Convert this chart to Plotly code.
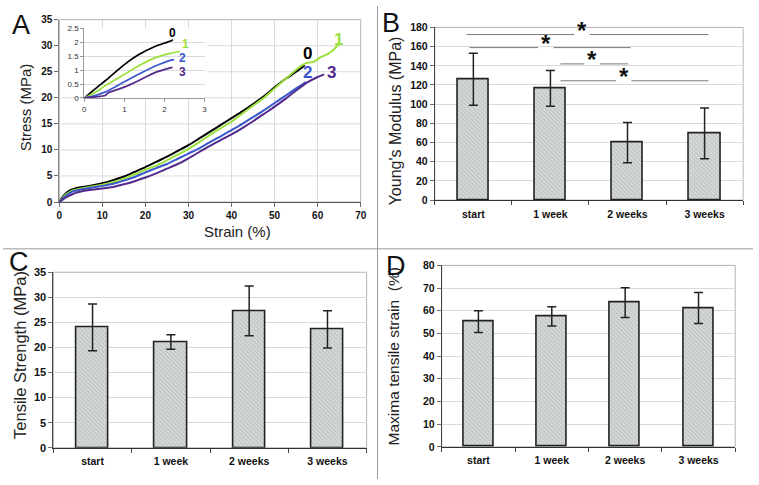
import plotly.graph_objects as go

W, H = 759, 485

# ---------------- data ----------------
# Panel A: stress-strain curves (strain %, stress MPa)
c0_x = [0, 0.5, 1, 2, 3, 4, 5, 7, 10, 12.5, 15, 17.5, 20, 22.5, 25, 27.5, 30, 32.5, 35, 37.5, 40, 42.5, 45, 47.5, 50, 52.5, 55, 57]
c0_y = [0, 0.7, 1.2, 2.0, 2.4, 2.7, 2.85, 3.1, 3.6, 4.2, 4.9, 5.8, 6.7, 7.7, 8.7, 9.8, 10.9, 12.2, 13.5, 14.8, 16.1, 17.4, 18.8, 20.3, 22.0, 23.6, 25.0, 26.2]
c1_x = [0, 0.5, 1, 2, 3, 4, 5, 7, 10, 12.5, 15, 17.5, 20, 22.5, 25, 27.5, 30, 32.5, 35, 37.5, 40, 42.5, 45, 47.5, 50, 52.5, 55, 56.5, 57.5, 58.5, 59.5, 60.5, 61.5, 62.5, 63.5, 64.5, 65]
c1_y = [0, 0.5, 1.0, 1.7, 2.2, 2.4, 2.6, 2.9, 3.3, 3.8, 4.5, 5.3, 6.2, 7.0, 8.0, 9.1, 10.2, 11.5, 12.9, 14.2, 15.4, 17.0, 18.5, 20.0, 21.8, 23.6, 25.4, 26.3, 26.7, 26.8, 27.1, 27.7, 28.1, 28.5, 29.1, 29.9, 30.3]
c2_x = [0, 0.5, 1, 2, 3, 4, 5, 7, 10, 12.5, 15, 17.5, 20, 22.5, 25, 27.5, 30, 32.5, 35, 37.5, 40, 42.5, 45, 47.5, 50, 52.5, 55, 56.5, 57.3]
c2_y = [0, 0.4, 0.8, 1.5, 2.0, 2.2, 2.4, 2.7, 3.1, 3.5, 4.1, 4.8, 5.7, 6.5, 7.3, 8.3, 9.3, 10.3, 11.5, 12.6, 13.8, 15.0, 16.3, 17.6, 19.0, 20.4, 21.8, 22.6, 23.0]
c3_x = [0, 0.5, 1, 2, 3, 4, 5, 6, 7, 10, 12.5, 15, 17.5, 20, 22.5, 25, 27.5, 30, 32.5, 35, 37.5, 40, 42.5, 45, 47.5, 50, 52.5, 55, 57.5, 60, 61.5]
c3_y = [0, 0.3, 0.6, 1.1, 1.5, 1.8, 2.0, 2.2, 2.3, 2.6, 2.9, 3.4, 4.0, 4.7, 5.5, 6.4, 7.3, 8.4, 9.6, 10.8, 11.9, 13.0, 14.2, 15.5, 16.9, 18.3, 19.8, 21.4, 22.9, 24.0, 24.5]

# Panel A inset: initial region
i0_x = [0, 0.27, 0.52, 1.0, 1.35, 1.76, 2.17, 2.21]
i0_y = [0, 0.33, 0.62, 1.2, 1.55, 1.85, 2.06, 2.1]
i1_x = [0, 0.27, 0.52, 1.0, 1.35, 1.76, 2.17, 2.38]
i1_y = [0, 0.2, 0.44, 0.85, 1.15, 1.44, 1.61, 1.67]
i2_x = [0, 0.27, 0.52, 1.0, 1.35, 1.76, 2.17, 2.24]
i2_y = [0, 0.09, 0.21, 0.58, 0.85, 1.14, 1.36, 1.38]
i3_x = [0, 0.27, 0.52, 0.6, 1.0, 1.35, 1.76, 2.17, 2.2]
i3_y = [0, 0.04, 0.09, 0.19, 0.39, 0.62, 0.91, 1.09, 1.1]

curve_names = ["0", "1", "2", "3"]
curve_colors = ["#000000", "#99e03a", "#3a58cc", "#512a8c"]

# Bar panels
categories = ["start", "1 week", "2 weeks", "3 weeks"]
youngs_mean = [126, 116.5, 60, 69.5]
youngs_err = [27, 18.7, 21, 26.5]
tensile_mean = [24.0, 21.1, 27.3, 23.6]
tensile_err = [4.65, 1.45, 4.95, 3.7]
maxstrain_mean = [55.2, 57.5, 63.6, 61.2]
maxstrain_err = [4.8, 4.25, 6.6, 6.85]

# significance comparisons in panel B (from, to, level, star position)
sig_from = [-0.09, -0.05, 1.13, 1.13]
sig_to = [3.05, 2.04, 2.01, 3.05]
sig_level = [172.6, 159, 142, 124.4]
sig_star = [1.41, 0.94, 1.54, 1.95]

# main-panel A gridline values
a_grid = [5, 10, 15, 20, 25, 30]

# ---------------- helpers ----------------
def fx(p):
    return p / W

def fy(p):
    return 1 - p / H

NARROW = "Liberation Sans Narrow, Arial Narrow, Liberation Sans, Arial, sans-serif"
SANS = "Liberation Sans, Arial, sans-serif"
AXIS_COL = "#6e6e6e"
GRID_COL = "#dadada"
BORDER_COL = "#b4b4b4"

fig = go.Figure()

# Panel A main curves
for xs, ys, col in [(c0_x, c0_y, curve_colors[0]), (c1_x, c1_y, curve_colors[1]),
                    (c2_x, c2_y, curve_colors[2]), (c3_x, c3_y, curve_colors[3])]:
    fig.add_trace(go.Scatter(x=xs, y=ys, mode="lines", line=dict(color=col, width=2, shape="spline", smoothing=0.5),
                             xaxis="x", yaxis="y", showlegend=False, hoverinfo="skip"))
# inset curves
for xs, ys, col in [(i0_x, i0_y, curve_colors[0]), (i1_x, i1_y, curve_colors[1]),
                    (i2_x, i2_y, curve_colors[2]), (i3_x, i3_y, curve_colors[3])]:
    fig.add_trace(go.Scatter(x=xs, y=ys, mode="lines", line=dict(color=col, width=1.7, shape="spline", smoothing=0.6),
                             xaxis="x2", yaxis="y2", showlegend=False, hoverinfo="skip"))

def bar_trace(vals, errs, xa, ya):
    return go.Bar(
        x=list(range(len(categories))), y=vals, width=0.41,
        marker=dict(color="#d6dbda", line=dict(color="#222222", width=1.6),
                    pattern=dict(shape="\\", fgcolor="#9aa3a2", bgcolor="#d6dbda", size=3, solidity=0.35)),
        error_y=dict(type="data", array=errs, color="#222222", thickness=1.5, width=4.5),
        xaxis=xa, yaxis=ya, showlegend=False, hoverinfo="skip")

fig.add_trace(bar_trace(youngs_mean, youngs_err, "x3", "y3"))
fig.add_trace(bar_trace(tensile_mean, tensile_err, "x4", "y4"))
fig.add_trace(bar_trace(maxstrain_mean, maxstrain_err, "x5", "y5"))

def num_axis(domain, rng, dtick, anchor, size=10, **kw):
    d = dict(domain=domain, range=rng, dtick=dtick, anchor=anchor, showline=True, linecolor=AXIS_COL,
             linewidth=1, ticks="outside", ticklen=4, tickcolor=AXIS_COL, showgrid=True, gridcolor=GRID_COL,
             zeroline=False, tickfont=dict(family=NARROW, size=size, color="#111", weight="bold"), fixedrange=True)
    d.update(kw)
    return d

def cat_axis(domain, anchor):
    return dict(domain=domain, range=[-0.5, 3.5], anchor=anchor, showline=True, linecolor="#333",
                linewidth=1, tickmode="array", tickvals=list(range(len(categories))), ticktext=categories,
                ticks="outside", ticklen=4, tickcolor="rgba(0,0,0,0)", showgrid=False, zeroline=False,
                tickfont=dict(family=NARROW, size=10.5, color="#111", weight="bold"),
                minor=dict(tickmode="linear", tick0=-0.5, dtick=1, ticks="outside", ticklen=4, tickcolor="#444"),
                fixedrange=True)

fig.update_layout(
    width=W, height=H, margin=dict(l=0, r=0, t=0, b=0),
    paper_bgcolor="white", plot_bgcolor="white", bargap=0,
    xaxis=num_axis([fx(57), fx(362)], [0, 70], 10, "y", linecolor="#555"),
    yaxis=num_axis([fy(201), fy(14)], [0, 35], 5, "x", linecolor="#888", showgrid=False),
    xaxis2=dict(domain=[fx(82.3), fx(204)], range=[0, 3], dtick=1, anchor="y2", showline=True, linecolor="#999",
                ticks="outside", ticklen=3, tickcolor="#999", showgrid=False, zeroline=False,
                tickfont=dict(family=SANS, size=8, color="#333"), fixedrange=True),
    yaxis2=dict(domain=[fy(94.3), fy(23)], range=[0, 2.5], dtick=0.5, anchor="x2", showline=True, linecolor="#999",
                ticks="outside", ticklen=3, tickcolor="#999", showgrid=True, gridcolor=GRID_COL, zeroline=False,
                tickfont=dict(family=SANS, size=8, color="#333"), fixedrange=True),
    xaxis3=cat_axis([fx(437), fx(749)], "y3"),
    yaxis3=num_axis([fy(199), fy(22)], [0, 180], 20, "x3", size=10.5, linecolor="#444"),
    xaxis4=cat_axis([fx(51), fx(368)], "y4"),
    yaxis4=num_axis([fy(453), fy(273)], [0, 35], 5, "x4", size=11, linecolor="#444"),
    xaxis5=cat_axis([fx(444), fx(741)], "y5"),
    yaxis5=num_axis([fy(452), fy(266)], [0, 80], 10, "x5", size=10.5, linecolor="#444"),
)

shapes = []
# plot-area borders
for xa, ya in [("x", "y"), ("x3", "y3"), ("x4", "y4"), ("x5", "y5")]:
    shapes.append(dict(type="rect", xref=xa + " domain", yref=ya + " domain", x0=0, x1=1, y0=0, y1=1,
                       line=dict(color=BORDER_COL, width=1), layer="below"))
# gridlines of the main panel A, interrupted by the inset's white chart area
inset_right = (207 - 57) / 305
inset_top_val, inset_bot_val = 35 * (201 - 16) / 187, 35 * (201 - 93) / 187
for g in a_grid:
    x_start = inset_right if inset_bot_val < g < inset_top_val else 0
    shapes.append(dict(type="line", xref="x domain", yref="y", x0=x_start, x1=1, y0=g, y1=g,
                       line=dict(color=GRID_COL, width=1), layer="below"))
# panel dividers
shapes.append(dict(type="line", xref="paper", yref="paper", x0=fx(379), x1=fx(379), y0=0, y1=1,
                   line=dict(color="#9a9a9a", width=1)))
shapes.append(dict(type="line", xref="paper", yref="paper", x0=0, x1=1, y0=fy(249), y1=fy(249),
                   line=dict(color="#9a9a9a", width=1)))
# significance lines in B
gap = 0.1
for a, b, lev, s in zip(sig_from, sig_to, sig_level, sig_star):
    for s0, s1 in [(a, s - gap), (s + gap, b)]:
        shapes.append(dict(type="line", xref="x3", yref="y3", x0=s0, x1=s1, y0=lev, y1=lev,
                           line=dict(color="#7a7a7a", width=1)))
fig.update_layout(shapes=shapes)

ann = []
for lev, s in zip(sig_level, sig_star):
    ann.append(dict(x=s, y=lev, xref="x3", yref="y3", text="<b>*</b>", showarrow=False,
                    font=dict(family=SANS, size=24, color="#111"), yshift=4))

# curve labels main
for name, col, lx, ly in zip(curve_names, curve_colors, [57.7, 64.95, 57.7, 63.2], [28.6, 31.1, 24.8, 24.8]):
    ann.append(dict(x=lx, y=ly, xref="x", yref="y", text="<b>" + name + "</b>", showarrow=False,
                    font=dict(family=SANS, size=17, color=col)))
# curve labels inset
for name, col, lx, ly in zip(curve_names, curve_colors, [2.21, 2.53, 2.45, 2.45], [2.33, 1.95, 1.42, 0.92]):
    ann.append(dict(x=lx, y=ly, xref="x2", yref="y2", text="<b>" + name + "</b>", showarrow=False,
                    font=dict(family=SANS, size=12, color=col)))

# axis titles
def title(text, x, y, size, angle=0):
    return dict(x=fx(x), y=fy(y), xref="paper", yref="paper", text=text, showarrow=False, textangle=angle,
                font=dict(family=SANS, size=size, color="#222"), xanchor="center", yanchor="middle")

ann.append(title("Stress (MPa)", 23, 104, 15, -90))
ann.append(title("Strain (%)", 237, 231, 15))
ann.append(title("Young's Modulus (MPa)", 397, 118, 16, -90))
ann.append(title("Tensile Strength (MPa)", 17, 358, 16.5, -90))
ann.append(title("Maxima tensile strain  (%)", 395, 359, 15.5, -90))

# panel letters
for letter, x, y in [("A", 18, 19), ("B", 393, 17), ("C", 16, 263), ("D", 398, 267)]:
    ann.append(dict(x=fx(x), y=fy(y), xref="paper", yref="paper", text=letter, showarrow=False,
                    font=dict(family=SANS, size=27, color="#111"), xanchor="center", yanchor="middle"))

fig.update_layout(annotations=ann)

fig.write_html("out.html", config={"displayModeBar": False},
               post_script="document.body.style.margin='0';document.body.style.overflow='hidden';")
